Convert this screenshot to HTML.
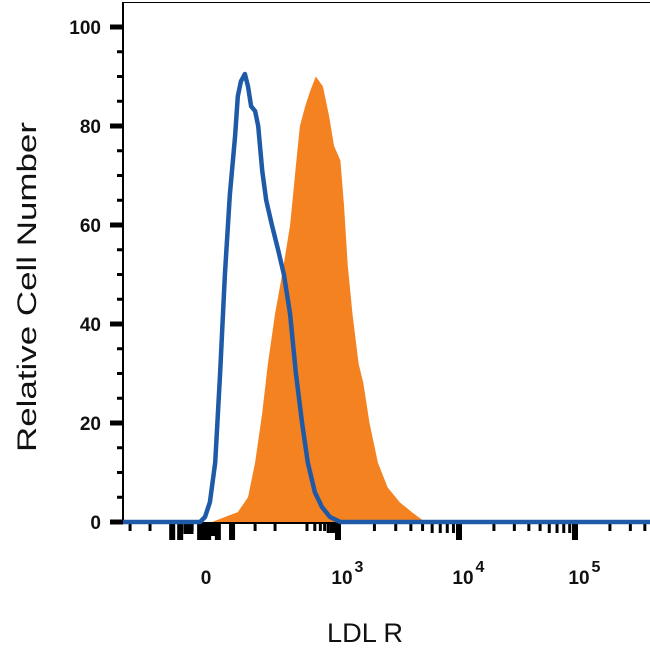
<!DOCTYPE html>
<html><head><meta charset="utf-8"><style>
html,body{margin:0;padding:0;background:#fff;}
svg{display:block;font-family:"Liberation Sans",sans-serif;}
</style></head><body>
<svg id="chart" width="650" height="650">
<g id="plot"></g>
</svg>
<script>
// data (x in display-decade units: 0 => "0", 3 => 10^3, 4 => 10^4, 5 => 10^5)
const blueX = [-0.11,0,0.11,0.23,0.34,0.45,0.56,0.68,0.74,0.81,0.90,0.97,1.04,1.13,1.20,1.29,1.38,1.51,1.65,1.78,1.92,2.05,2.19,2.32,2.48,2.64,2.82,3.02];
const blueY = [0,1,4,12,30,50,66,78,86,89,90.5,88,84,83,80,71,65,60,55,50,42,30,20,12,6,3,1,0];
const orangeX = [0.16,0.45,0.74,0.97,1.13,1.29,1.42,1.58,1.74,1.92,2.05,2.14,2.26,2.37,2.50,2.66,2.80,2.91,3.02,3.05,3.08,3.12,3.17,3.21,3.26,3.33,3.41,3.51,3.61,3.72];
const orangeY = [0,1,2,5,12,22,32,42,50,60,72,80,84,87,90,88,82,76,73,64,52,42,32,28,20,12,7,4,2,0];
const yTicks = [0,20,40,60,80,100];
const xTickVals = [0,3,4,5];
const xTickLabels = ["0","10","10","10"];
const xTickSup = ["","3","4","5"];

const NS="http://www.w3.org/2000/svg";
const svg=document.getElementById('plot');
function xs(t){
  if(t<=3) return 205+t*44.33;
  if(t<=4) return 338+(t-3)*121;
  return 459+(t-4)*116;
}
function ys(v){return 522-v*4.95;}
function el(tag,attrs,parent){const e=document.createElementNS(NS,tag);for(const k in attrs)e.setAttribute(k,attrs[k]);(parent||svg).appendChild(e);return e;}

let d='M'+xs(orangeX[0])+','+ys(0);
orangeX.forEach((x,i)=>{d+=' L'+xs(x).toFixed(1)+','+ys(orangeY[i]).toFixed(1);});
d+=' Z';
const orange=el('path',{d:d,fill:'#f58220',stroke:'none'});



const yaxis=el('line',{x1:123,y1:2,x2:123,y2:524,stroke:'#000','stroke-width':2});


el('line',{x1:123,y1:2.5,x2:650,y2:2.5,stroke:'#000','stroke-width':1});
for(let v=0;v<=100;v+=5){
  const major=v%20===0;
  el('rect',{x:major?110:117,y:ys(v)-(major?2.5:1.5),width:major?13:6,height:major?5:3,fill:'#000'});
}
yTicks.forEach(v=>{
  const t=el('text',{x:101,y:ys(v)+7,'text-anchor':'end','font-size':19,'font-weight':'bold',fill:'#111'});
  t.textContent=v;
  
  
});
const minorT=[-1.69,-1.24,-0.29,1.13,1.58];
const heavyT=[-0.74,-0.56,-0.11,0.07,0.29,0.61];
minorT.forEach(t=>el('rect',{x:xs(t)-1.5,y:524,width:3,height:7,fill:'#000'}));
heavyT.forEach(t=>el('rect',{x:xs(t)-3,y:524,width:6,height:16,fill:'#000'}));
el('rect',{x:xs(-0.35)-6,y:524,width:10,height:10,fill:'#000'});
el('rect',{x:xs(0.05)-8,y:524,width:16,height:12,fill:'#000'});
for(let dec=2;dec<=5;dec++){
  for(let k=2;k<=9;k++){
    const t=dec+Math.log10(k);
    if(xs(t)>648)continue;
    el('rect',{x:xs(t)-1.5,y:524,width:3,height:k>=6?9:7,fill:'#000'});
  }
}
xTickVals.forEach(t=>el('rect',{x:xs(t)-3,y:524,width:6,height:16,fill:'#000'}));
xTickVals.forEach((t,i)=>{
  const tx=el('text',{x:xs(t)+(i===0?1:4),y:584,'text-anchor':'middle','font-size':19,'font-weight':'bold',fill:'#111'});
  tx.textContent=xTickLabels[i];
  
  
  if(xTickSup[i]){
    const s=el('text',{x:xs(t)+21,y:572,'text-anchor':'middle','font-size':16,'font-weight':'bold',fill:'#111'});
    s.textContent=xTickSup[i];
    
    
  }
});
const xaxis=el('line',{x1:123,y1:523,x2:650,y2:523,stroke:'#000','stroke-width':2});



let b='M123,'+ys(0);
blueX.forEach((x,i)=>{b+=' L'+xs(x).toFixed(1)+','+ys(blueY[i]).toFixed(1);});
b+=' L650,'+ys(0);
const blue=el('path',{d:b,fill:'none',stroke:'#1f5aa8','stroke-width':4.5,'stroke-linejoin':'round'});



const xt=el('text',{x:365,y:642,'text-anchor':'middle','font-size':27,fill:'#111',textLength:76,lengthAdjust:'spacingAndGlyphs'});
xt.textContent='LDL R';


const yt=el('text',{x:0,y:0,'text-anchor':'middle','font-size':27,fill:'#111',transform:'translate(36,287) rotate(-90)',textLength:330,lengthAdjust:'spacingAndGlyphs'});
yt.textContent='Relative Cell Number';


</script>
</body></html>
